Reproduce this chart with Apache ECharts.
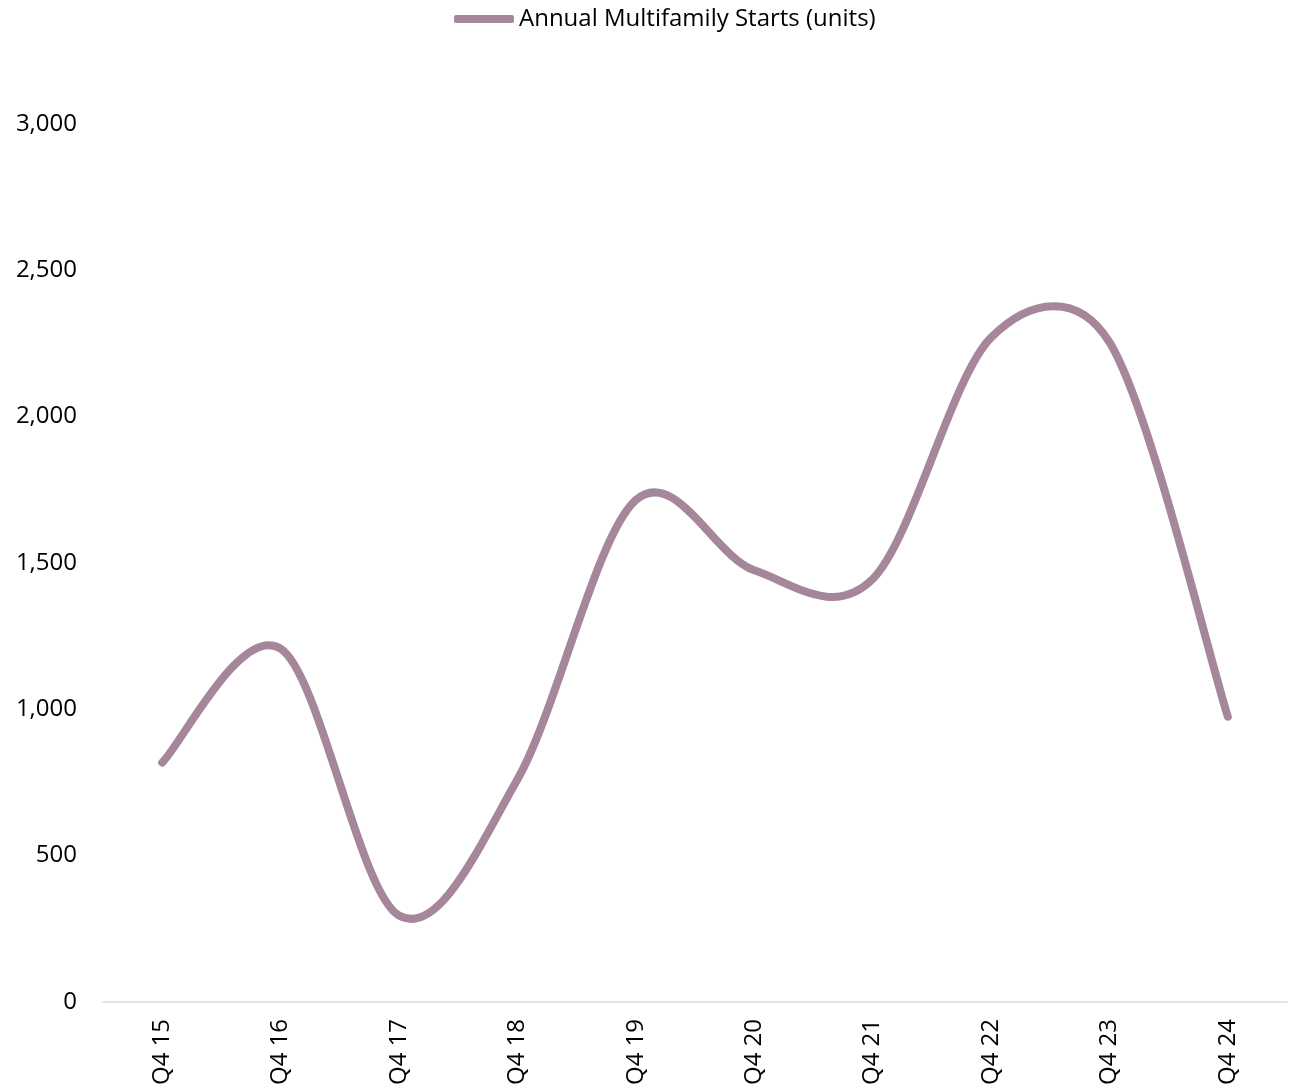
<!DOCTYPE html>
<html>
<head>
<meta charset="utf-8">
<script src="https://cdn.jsdelivr.net/npm/echarts@6/dist/echarts.min.js"></script>
<style>
  html, body { margin: 0; padding: 0; background: #fff; }
  #chart { width: 1299px; height: 1088px; }
</style>
</head>
<body>
<div id="chart"></div>
<script>
  // 季度标签与数值
  var categories = ['Q4 15', 'Q4 16', 'Q4 17', 'Q4 18', 'Q4 19', 'Q4 20', 'Q4 21', 'Q4 22', 'Q4 23', 'Q4 24'];
  var starts = [818, 1207, 295, 760, 1715, 1475, 1445, 2270, 2255, 975];
  var lineColor = '#a6869b';

  // Excel 风格的平滑曲线（像素坐标下计算控制点）
  function smoothPath(pts) {
    var d = 'M' + pts[0][0] + ',' + pts[0][1];
    for (var i = 0; i < pts.length - 1; i++) {
      var p0 = pts[i - 1] || pts[i];
      var p1 = pts[i];
      var p2 = pts[i + 1];
      var p3 = pts[i + 2] || pts[i + 1];
      var half = Math.hypot(p2[0] - p1[0], p2[1] - p1[1]) / 2;
      var t1 = [(p2[0] - p0[0]) / 6, (p2[1] - p0[1]) / 6];
      var t2 = [(p3[0] - p1[0]) / 6, (p3[1] - p1[1]) / 6];
      var l1 = Math.hypot(t1[0], t1[1]);
      var l2 = Math.hypot(t2[0], t2[1]);
      if (l1 > half) { t1 = [t1[0] * half / l1, t1[1] * half / l1]; }
      if (l2 > half) { t2 = [t2[0] * half / l2, t2[1] * half / l2]; }
      d += 'C' + (p1[0] + t1[0]) + ',' + (p1[1] + t1[1]) + ' ' +
           (p2[0] - t2[0]) + ',' + (p2[1] - t2[1]) + ' ' +
           p2[0] + ',' + p2[1];
    }
    return d;
  }

  var myChart = echarts.init(document.getElementById('chart'));
  var option = {
    textStyle: { fontFamily: 'Open Sans' },
    color: [lineColor],
    legend: {
      top: 2,
      left: 449,
      icon: 'roundRect',
      itemWidth: 60,
      itemHeight: 8,
      textStyle: { fontSize: 24, color: '#000', fontFamily: 'Open Sans' },
      data: ['Annual Multifamily Starts (units)']
    },
    grid: { left: 103, right: 12, top: 124, bottom: 85, containLabel: false },
    xAxis: {
      type: 'category',
      data: categories,
      boundaryGap: true,
      axisLine: { lineStyle: { color: '#d9d9d9', width: 1.5 } },
      axisTick: { show: false },
      axisLabel: { rotate: 90, fontSize: 24, color: '#000', margin: 17 }
    },
    yAxis: {
      type: 'value',
      min: 0,
      max: 3000,
      interval: 500,
      splitLine: { show: false },
      axisLine: { show: false },
      axisTick: { show: false },
      axisLabel: {
        fontSize: 24, color: '#000', margin: 26,
        formatter: function (v) { return v.toLocaleString('en-US'); }
      }
    },
    series: [{
      name: 'Annual Multifamily Starts (units)',
      type: 'custom',
      data: starts.map(function (v, i) { return [i, v]; }),
      encode: { x: 0, y: 1 },
      renderItem: function (params, api) {
        if (params.dataIndex !== 0) return null;
        var pts = starts.map(function (v, i) { return api.coord([i, v]); });
        return {
          type: 'path',
          shape: { pathData: smoothPath(pts) },
          style: { fill: null, stroke: lineColor, lineWidth: 8, lineCap: 'round', lineJoin: 'round' }
        };
      }
    }]
  };
  myChart.setOption(option);
</script>
</body>
</html>
